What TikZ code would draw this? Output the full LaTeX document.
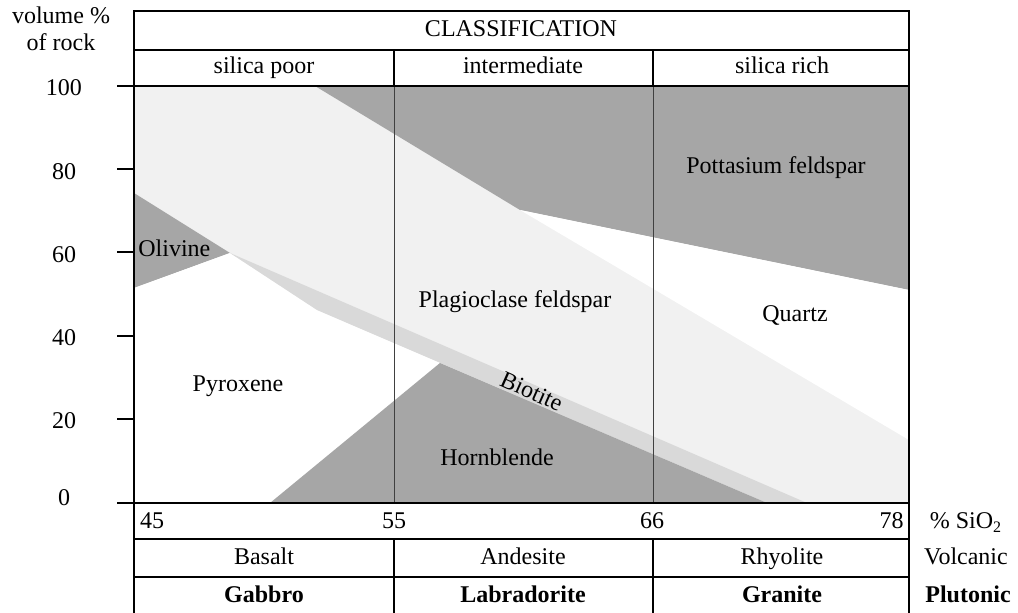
\documentclass[tikz,border=0pt]{standalone}
\usepackage{fontspec}
\setmainfont{Liberation Serif}
\definecolor{darkfill}{HTML}{A6A6A6}
\definecolor{lightfill}{HTML}{F1F1F1}
\definecolor{biofill}{HTML}{D9D9D9}
\begin{document}
\begin{tikzpicture}[x=0.5pt,y=-0.5pt,
  tab/.style={line width=1.3pt},
  inner line/.style={line width=0.5pt,black!75},
  lbl/.style={font=\fontsize{12}{14}\selectfont,inner sep=0pt,text height=8.5pt,text depth=2.5pt,yshift=-1pt},
  bold lbl/.style={lbl,font=\fontsize{12}{14}\selectfont\bfseries}]
\useasboundingbox (0,0) rectangle (1018,613);
%\draw[help lines] (0,0) grid[step=50] (1018,613);
% mineral fields
\fill[lightfill] (134,86) rectangle (909,503);
\fill[darkfill] (315,86) -- (909,86) -- (909,290) -- (520,210) -- cycle;
\fill[white] (520,210) -- (909,290) -- (909,440) -- cycle;
\fill[darkfill] (134,193) -- (230,253) -- (134,288) -- cycle;
\fill[white] (134,288) -- (230,253) -- (317,310) -- (767,503) -- (134,503) -- cycle;
\fill[biofill] (230,253) -- (807,503) -- (767,503) -- (317,310) -- cycle;
\fill[darkfill] (270,503) -- (440,363) -- (767,503) -- cycle;
\draw[inner line] (394,86) -- (394,503);
\draw[inner line] (653,86) -- (653,503);
% table
\draw[tab] (134,613) -- (134,11) -- (909,11) -- (909,613);
\draw[tab] (134,50) -- (909,50);
\draw[tab] (117,86) -- (909,86);
\draw[tab] (117,503) -- (909,503);
\draw[tab] (134,539) -- (909,539);
\draw[tab] (134,577) -- (909,577);
\draw[tab] (394,50) -- (394,86);
\draw[tab] (653,50) -- (653,86);
\draw[tab] (394,539) -- (394,613);
\draw[tab] (653,539) -- (653,613);
% axis
\foreach \v/\y/\ly in {100/86/88,80/169/172,60/252/255,40/336/338,20/419/421,0/503/498}{
  \draw[tab] (117,\y) -- (134,\y);
  \node[lbl] (y\v) at (64,\ly) {\v};
}
\node[lbl] (vol) at (61,16) {volume \%};
\node[lbl] (rock) at (61,43) {of rock};
% header
\node[lbl] (class) at (521,29) {CLASSIFICATION};
\node[lbl] (poor) at (264,66) {silica poor};
\node[lbl] (inter) at (523,66) {intermediate};
\node[lbl] (rich) at (782,66) {silica rich};
% minerals
\node[lbl] (kfs) at (776,166) {Pottasium feldspar};
\node[lbl,anchor=west] (ol) at (138,249) {Olivine};
\node[lbl] (pl) at (515,300) {Plagioclase feldspar};
\node[lbl] (qz) at (795,314) {Quartz};
\node[lbl] (px) at (238,384) {Pyroxene};
\node[lbl,rotate=-24] (bt) at (531,391) {Biotite};
\node[lbl] (hbl) at (497,458) {Hornblende};
% silica scale
\node[lbl] (s45) at (152,521) {45};
\node[lbl] (s55) at (394,521) {55};
\node[lbl] (s66) at (652,521) {66};
\node[lbl,anchor=east] (s78) at (904,521) {78};
\node[lbl] (sio) at (966,521) {\% SiO\textsubscript{2}};
% rock names
\node[lbl] (bas) at (264,557) {Basalt};
\node[lbl] (and) at (523,557) {Andesite};
\node[lbl] (rhy) at (782,557) {Rhyolite};
\node[lbl] (volc) at (966,557) {Volcanic};
\node[bold lbl] (gab) at (264,595) {Gabbro};
\node[bold lbl] (lab) at (523,595) {Labradorite};
\node[bold lbl] (gra) at (782,595) {Granite};
\node[bold lbl] (plu) at (968,595) {Plutonic};
\end{tikzpicture}
\end{document}
